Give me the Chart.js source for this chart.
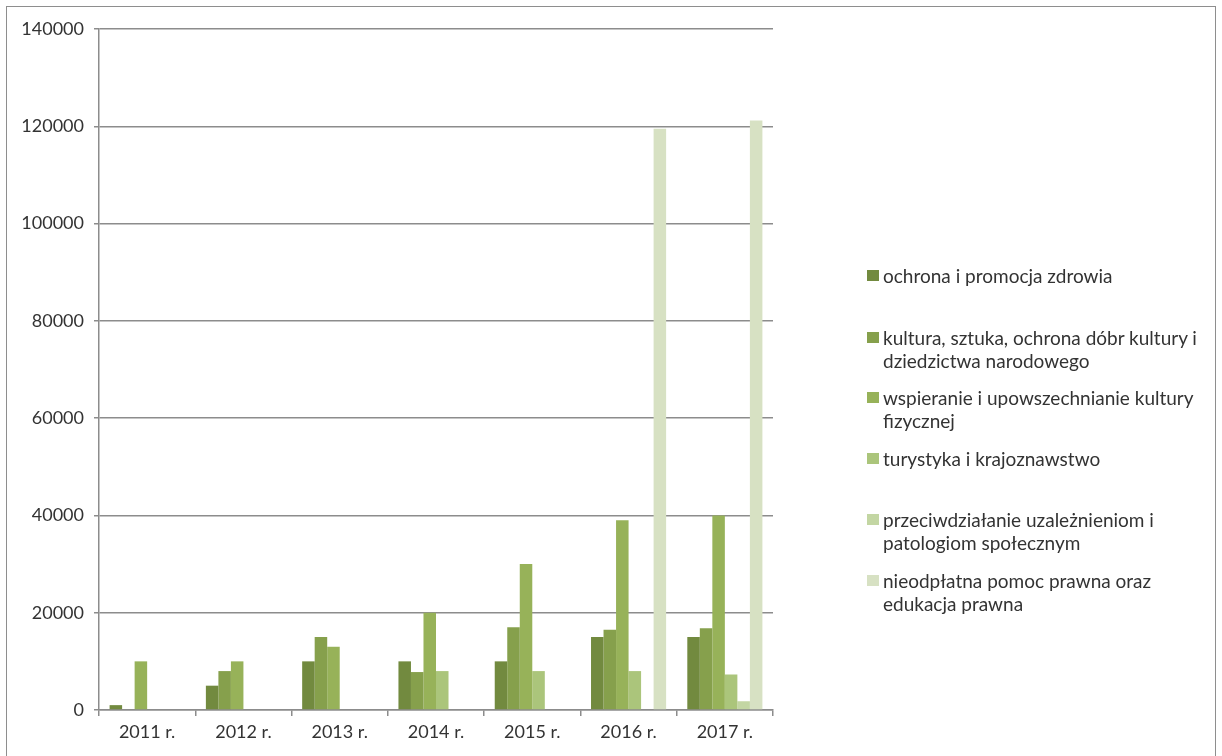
<!DOCTYPE html>
<html><head><meta charset="utf-8">
<script src="https://cdn.jsdelivr.net/npm/chart.js@4"></script>
<style>
html,body{margin:0;padding:0;background:#fff;}
body{width:1222px;height:756px;overflow:hidden;position:relative;font-family:Lato,'Liberation Sans',sans-serif;}
#frame{position:absolute;left:6px;top:6px;width:1210px;height:790px;border:1.5px solid #8e8e8e;box-sizing:border-box;}
canvas{position:absolute;left:0;top:0;}
.item{position:absolute;left:867px;width:350px;font-size:19px;line-height:23px;color:#333;white-space:pre-line;padding-left:16px;box-sizing:border-box;}
.sw{position:absolute;left:0;top:6px;width:12px;height:11px;}
</style>
</head>
<body>
<div id="frame"></div>
<canvas id="c" width="1222" height="756"></canvas>
<div id="legend"></div>
<script>
const categories = ['2011 r.', '2012 r.', '2013 r.', '2014 r.', '2015 r.', '2016 r.', '2017 r.'];
const seriesNames = [
  'ochrona i promocja zdrowia',
  'kultura, sztuka, ochrona dóbr kultury i\ndziedzictwa narodowego',
  'wspieranie i upowszechnianie kultury\nfizycznej',
  'turystyka i krajoznawstwo',
  'przeciwdziałanie uzależnieniom i\npatologiom społecznym',
  'nieodpłatna pomoc prawna oraz\nedukacja prawna'
];
const ochronaZdrowia = [1000, 5000, 10000, 10000, 10000, 15000, 15000];
const kultura = [0, 8000, 15000, 7800, 17000, 16500, 16800];
const kulturaFizyczna = [10000, 10000, 13000, 20000, 30000, 39000, 40000];
const turystyka = [0, 0, 0, 8000, 8000, 8000, 7300];
const uzaleznienia = [0, 0, 0, 0, 0, 0, 1800];
const pomocPrawna = [0, 0, 0, 0, 0, 119500, 121200];
const yTicks = [0, 20000, 40000, 60000, 80000, 100000, 120000, 140000];

const seriesValues = [ochronaZdrowia, kultura, kulturaFizyczna, turystyka, uzaleznienia, pomocPrawna];
const colors = ['#728A3F', '#86A04C', '#97B259', '#ABC57B', '#C3D6A3', '#D7E1C3'];
const legendTops = [264, 326, 386, 447, 508, 569];

const FONT = "Lato, 'Liberation Sans', sans-serif";
const gridColor = '#8c8c8c';
const textColor = '#333333';

new Chart(document.getElementById('c'), {
  type: 'bar',
  data: {
    labels: categories,
    datasets: seriesValues.map((v, i) => ({
      label: seriesNames[i],
      data: v,
      backgroundColor: colors[i],
      borderWidth: 0,
      categoryPercentage: 0.78,
      barPercentage: 1.0
    }))
  },
  options: {
    responsive: false,
    devicePixelRatio: 1,
    animation: false,
    layout: { padding: { left: 1, right: 449, top: 29, bottom: 0 } },
    plugins: { legend: { display: false }, tooltip: { enabled: false } },
    scales: {
      x: {
        grid: { display: true, drawOnChartArea: false, drawTicks: true, tickLength: 6, color: gridColor, lineWidth: 1.5, offset: true },
        border: { display: true, color: gridColor, width: 1.5 },
        ticks: { color: textColor, font: { family: FONT, size: 18 }, padding: 5, maxRotation: 0 },
        afterFit: s => { s.height = 46; }
      },
      y: {
        min: 0, max: 140000,
        afterBuildTicks: s => { s.ticks = yTicks.map(v => ({ value: v })); },
        ticks: { color: textColor, font: { family: FONT, size: 18 }, padding: 10, callback: v => String(v) },
        grid: { color: gridColor, lineWidth: 1.5, tickLength: 5 },
        border: { display: true, color: gridColor, width: 1.5 },
        afterFit: s => { s.width = 98; }
      }
    }
  }
});

const lg = document.getElementById('legend');
seriesNames.forEach((name, i) => {
  const d = document.createElement('div');
  d.className = 'item';
  d.style.top = legendTops[i] + 'px';
  const sw = document.createElement('span');
  sw.className = 'sw';
  sw.style.background = colors[i];
  d.appendChild(sw);
  d.appendChild(document.createTextNode(name));
  lg.appendChild(d);
});
</script>
</body></html>
